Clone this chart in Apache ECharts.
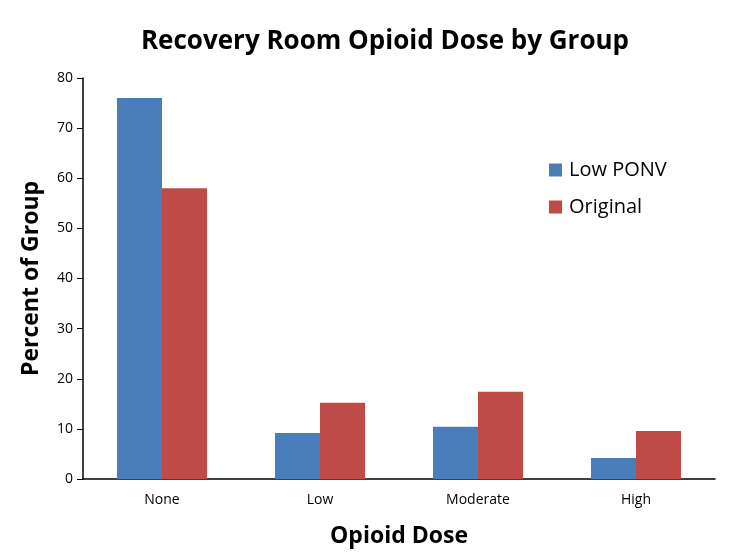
<!DOCTYPE html>
<html><head><meta charset="utf-8">
<script src="https://cdn.jsdelivr.net/npm/echarts@6/dist/echarts.min.js"></script>
<style>html,body{margin:0;padding:0;background:#fff}#c{width:732px;height:556px}</style>
</head><body><div id="c"></div>
<script>
const categories = ['None', 'Low', 'Moderate', 'High'];
const lowPonv = [76, 9.2, 10.4, 4.2];
const original = [58, 15.2, 17.4, 9.6];
const yTicks = [0, 10, 20, 30, 40, 50, 60, 70, 80];

const chart = echarts.init(document.getElementById('c'));
const font = 'Open Sans';
chart.setOption({
  animation: false,
  title: {
    text: 'Recovery Room Opioid Dose by Group',
    left: 380, top: 24, textAlign: 'center',
    textStyle: {fontFamily: font, fontWeight: 'bold', fontSize: 26, color: '#000'}
  },
  legend: {
    orient: 'vertical', left: 544, top: 155, itemGap: 17,
    itemWidth: 13, itemHeight: 13, icon: 'rect',
    textStyle: {fontFamily: font, fontSize: 20, color: '#000', padding: [0,0,0,2]},
    data: ['Low PONV', 'Original']
  },
  grid: {left: 83, right: 17, top: 78, bottom: 77, containLabel: false},
  xAxis: {
    type: 'category', data: categories,
    name: 'Opioid Dose', nameLocation: 'middle', nameGap: 46,
    nameTextStyle: {fontFamily: font, fontWeight: 'bold', fontSize: 23, color: '#000'},
    axisLine: {lineStyle: {color: '#000', width: 1.5}},
    axisTick: {show: false},
    axisLabel: {fontFamily: font, fontSize: 14, color: '#000', margin: 14}
  },
  yAxis: {
    type: 'value', min: 0, max: 80, interval: 10,
    name: 'Percent of Group', nameLocation: 'middle', nameGap: 40,
    nameTextStyle: {fontFamily: font, fontWeight: 'bold', fontSize: 23, color: '#000'},
    axisLine: {show: true, lineStyle: {color: '#000', width: 1.5}},
    axisTick: {show: true, length: 6, lineStyle: {color: '#000'}},
    splitLine: {show: false},
    axisLabel: {fontFamily: font, fontSize: 14, color: '#000', margin: 10,
      formatter: v => yTicks.includes(v) ? String(v) : ''}
  },
  series: [
    {name: 'Low PONV', type: 'bar', data: lowPonv, barGap: '0%', barCategoryGap: '43%',
     itemStyle: {color: '#4a7ebb'}},
    {name: 'Original', type: 'bar', data: original,
     itemStyle: {color: '#be4b48'}}
  ]
});
</script></body></html>
